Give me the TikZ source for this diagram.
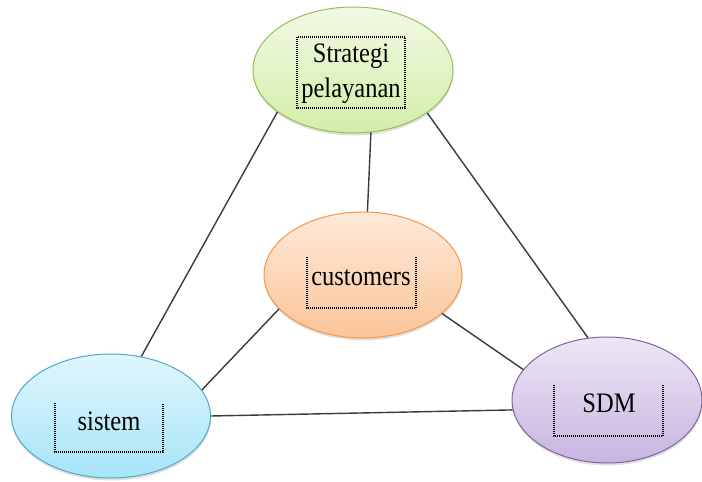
\documentclass[tikz,border=0pt]{standalone}
\usepackage{fontspec}
\usepackage{graphicx}
\setmainfont{Liberation Serif}
\usetikzlibrary{shapes.geometric,shadows}
\definecolor{grnB}{HTML}{9BBB59}
\definecolor{grnT}{HTML}{F1F9E4}
\definecolor{grnD}{HTML}{D3EEA8}
\definecolor{orgB}{HTML}{F79646}
\definecolor{orgT}{HTML}{FDEADB}
\definecolor{orgD}{HTML}{FBC497}
\definecolor{aquB}{HTML}{4BACC6}
\definecolor{aquT}{HTML}{E0F6FD}
\definecolor{aquD}{HTML}{A6E4F7}
\definecolor{purB}{HTML}{8064A2}
\definecolor{purT}{HTML}{EDE6F5}
\definecolor{purD}{HTML}{C8B5E0}
\definecolor{linegray}{HTML}{3A3A3A}
\newcommand{\tall}[1]{\scalebox{1}[1.15]{#1}}
\begin{document}
\begin{tikzpicture}[x=1pt,y=-1pt,
  bubble/.style={ellipse, draw, line width=1pt, inner sep=0pt,
    drop shadow={opacity=0.25, shadow xshift=0.5pt, shadow yshift=-2.5pt}},
  link/.style={draw=linegray, line width=1.4pt},
  lab/.style={font=\fontsize{24.5}{35}\selectfont, inner sep=0pt, text=black},
  dots/.style={line width=1.1pt, dash pattern=on 1pt off 1pt, draw=black}]
\useasboundingbox (0,0) rectangle (702,482);

\node[bubble, draw=grnB, top color=grnT, bottom color=grnD,
  minimum width=200pt, minimum height=126pt] (strat) at (353,70) {};
\node[bubble, draw=orgB, top color=orgT, bottom color=orgD,
  minimum width=198pt, minimum height=126pt] (cust) at (363,275) {};
\node[bubble, draw=aquB, top color=aquT, bottom color=aquD,
  minimum width=199pt, minimum height=124pt] (sis) at (111,416) {};
\node[bubble, draw=purB, top color=purT, bottom color=purD,
  minimum width=190pt, minimum height=126pt] (sdm) at (607,400) {};

\draw[link] (strat.209.4) -- (sis.63);
\draw[link] (strat.330.6) -- (sdm.107);
\draw[link] (strat.286.8) -- (cust.86);
\draw[link] (cust.202.9) -- (sis.16.9);
\draw[link] (cust.334.3) -- (sdm.160);
\draw[link] (sis.-0.5) -- (sdm.186);

\draw[dots] (297,37) rectangle (405,108);
\draw[dots] (307,257) -- (307,308) -- (416,308) -- (416,257);
\draw[dots] (55,403) -- (55,452) -- (163,452) -- (163,403);
\draw[dots] (554,385) -- (554,436) -- (663,436) -- (663,385);

\node[lab, align=center] (tstrat) at (351,74) {\tall{Strategi}\\\tall{pelayanan}};
\node[lab, anchor=base] (tcust) at (361,285) {\tall{customers}};
\node[lab, anchor=base] (tsis) at (109,430) {\tall{sistem}};
\node[lab, anchor=base] (tsdm) at (609,412) {\tall{SDM}};
\end{tikzpicture}
\end{document}
